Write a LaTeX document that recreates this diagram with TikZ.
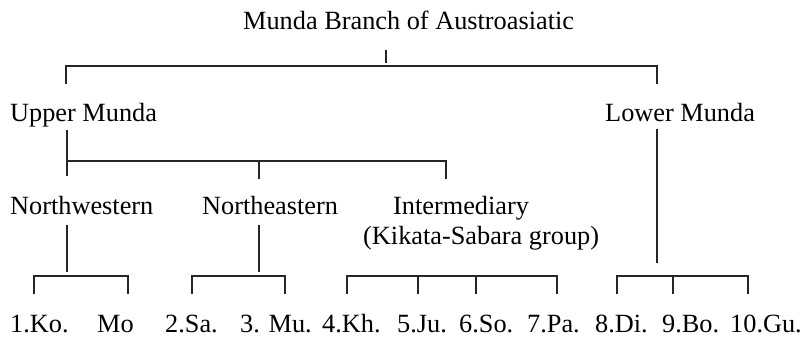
\documentclass[tikz,border=0pt]{standalone}
\usepackage{fontspec}
\setmainfont{Liberation Serif}
\usetikzlibrary{positioning}

\begin{document}
\begin{tikzpicture}[
    x=1pt, y=-1pt,
    every node/.style={inner sep=0pt, anchor=base west, font=\fontsize{26.3}{30}\selectfont},
    branch/.style={line width=1.4pt, draw=black!85}
]
\useasboundingbox (0,0) rectangle (805,339);

% Nodes
\node (root) at (243,30) {Munda Branch of Austroasiatic};
\node (upper) at (10,122) {Upper Munda};
\node (lower) at (605,122) {Lower Munda};
\node (nw) at (10,214) {Northwestern};
\node (ne) at (202,214) {Northeastern};
\node (inter) at (393,214) {Intermediary};
\node (intergrp) at (363,244) {(Kikata-Sabara group)};
\node (ko) at (10,332) {1.Ko.};
\node (mo) at (97,332) {Mo};
\node (sa) at (165,332) {2.Sa.};
\node (mu) at (240,332) {3. Mu.};
\node (kh) at (322,332) {4.Kh.};
\node (ju) at (397,332) {5.Ju.};
\node (so) at (459,332) {6.So.};
\node (pa) at (527,332) {7.Pa.};
\node (di) at (595,332) {8.Di.};
\node (bo) at (662,332) {9.Bo.};
\node (gu) at (730,332) {10.Gu.};

% Joints
\coordinate (rootTick) at (386,50);
\coordinate (rootBar) at (386,63);
\coordinate (barL) at (66,66);
\coordinate (barR) at (657,66);
\coordinate (upperTop) at (66,84);
\coordinate (lowerTop) at (657,84);
\coordinate (upperBot) at (67,130);
\coordinate (nwTick) at (67,176);
\coordinate (upBarL) at (67,161);
\coordinate (upBarM) at (259,161);
\coordinate (upBarR) at (446,161);
\coordinate (neTick) at (259,179);
\coordinate (interTick) at (446,179);
\coordinate (lowerBot) at (657,129);
\coordinate (lowerStem) at (657,263);
\coordinate (nwBot) at (67,225);
\coordinate (nwStem) at (67,272);
\coordinate (neBot) at (259,225);
\coordinate (neStem) at (259,272);

% Lines
\draw[branch] (rootTick) -- (rootBar);
\draw[branch] (upperTop) -- (barL) -- (barR) -- (lowerTop);
\draw[branch] (upperBot) -- (nwTick);
\draw[branch] (upBarL) -- (upBarR) -- (interTick);
\draw[branch] (upBarM) -- (neTick);
\draw[branch] (lowerBot) -- (lowerStem);
\draw[branch] (nwBot) -- (nwStem);
\draw[branch] (neBot) -- (neStem);

% Brackets over the languages
\draw[branch] (34,294) -- (34,276) -- (128,276) -- (128,294);
\draw[branch] (192,294) -- (192,276) -- (285,276) -- (285,294);
\draw[branch] (347,294) -- (347,276) -- (557,276) -- (557,294);
\foreach \x in {418,476} \draw[branch] (\x,276) -- (\x,294);
\draw[branch] (617,294) -- (617,276) -- (748,276) -- (748,294);
\draw[branch] (673,276) -- (673,294);

\end{tikzpicture}
\end{document}
